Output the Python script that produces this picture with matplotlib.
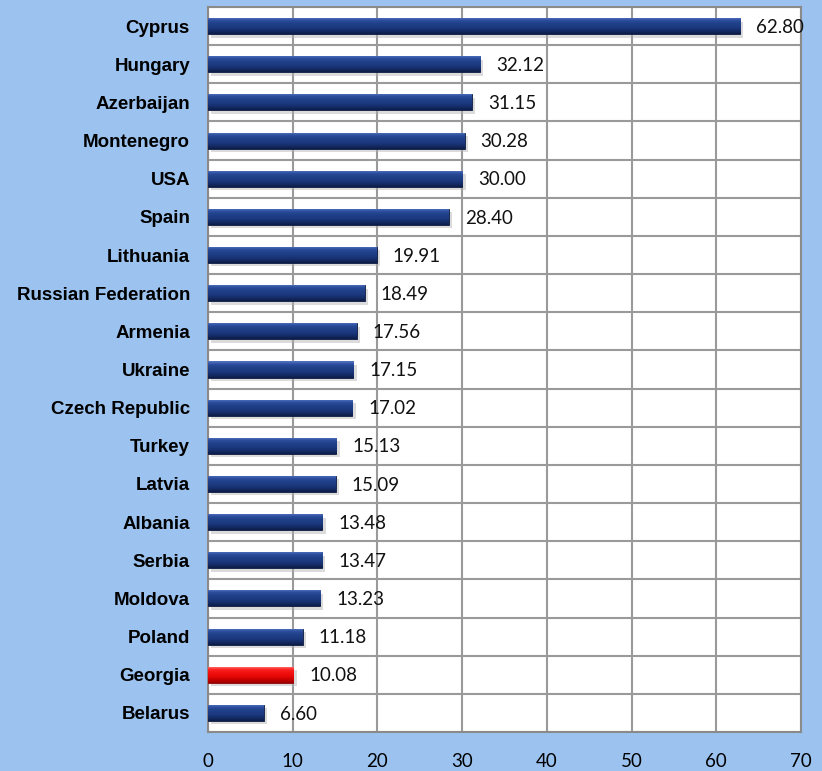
import matplotlib
matplotlib.use("Agg")
import matplotlib.pyplot as plt
import numpy as np
from matplotlib import font_manager
from matplotlib.colors import LinearSegmentedColormap

countries = ["Cyprus", "Hungary", "Azerbaijan", "Montenegro", "USA", "Spain",
             "Lithuania", "Russian Federation", "Armenia", "Ukraine",
             "Czech Republic", "Turkey", "Latvia", "Albania", "Serbia",
             "Moldova", "Poland", "Georgia", "Belarus"]
values = [62.80, 32.12, 31.15, 30.28, 30.00, 28.40, 19.91, 18.49, 17.56,
          17.15, 17.02, 15.13, 15.09, 13.48, 13.47, 13.23, 11.18, 10.08, 6.60]
highlight = "Georgia"
xticks = [0, 10, 20, 30, 40, 50, 60, 70]

names = {f.name for f in font_manager.fontManager.ttflist}
label_font = "Liberation Sans Narrow" if "Liberation Sans Narrow" in names else "Liberation Sans"
num_font = "Lato" if "Lato" in names else "DejaVu Sans"

bg = "#9cc3f0"
fig = plt.figure(figsize=(8.22, 7.71), dpi=100, facecolor=bg)
ax = fig.add_axes([208 / 822, 1 - 732 / 771, 593 / 822, 725 / 771])
ax.set_facecolor("white")

n = len(countries)
ypos = np.arange(n)
bh = 0.42

blue_cmap = LinearSegmentedColormap.from_list(
    "b", ["#5476c4", "#2a4c9a", "#1f3f88", "#1c3a80", "#152d68", "#0d1d48"])
red_cmap = LinearSegmentedColormap.from_list(
    "r", ["#ff8080", "#ff2020", "#f01010", "#e80808", "#c80000", "#a00000"])

# shadows
ax.barh(ypos + 0.09, values, height=bh, left=0.4, color="#b0b0b0", alpha=0.45,
        edgecolor="none", zorder=2)
bars = ax.barh(ypos, values, height=bh, color="#1c3a80", edgecolor="#0c1a40",
               linewidth=0.6, zorder=3)
grad = np.linspace(0, 1, 64).reshape(-1, 1)
for bar, c in zip(bars, countries):
    x0, y0 = bar.get_x(), bar.get_y()
    w, h = bar.get_width(), bar.get_height()
    cmap = red_cmap if c == highlight else blue_cmap
    im = ax.imshow(grad, cmap=cmap, aspect="auto", extent=(x0, x0 + w, y0 + h, y0),
                   zorder=3.5, interpolation="bilinear")
    im.set_clip_path(bar)
    if c == highlight:
        bar.set_edgecolor("#9a0000")

for yv, v in zip(ypos, values):
    ax.text(v + 1.9, yv + 0.03, f"{v:.2f}", va="center", ha="left",
            fontsize=13.5, family=num_font, color="#111111", zorder=5)

ax.set_xlim(0, 70)
ax.set_ylim(n - 0.5, -0.5)
ax.set_xticks(xticks)
ax.set_xticklabels([str(t) for t in xticks], fontsize=13.5, family=num_font)
ax.set_yticks(ypos)
ax.set_yticklabels(countries, fontsize=13.5, family=label_font, fontweight="bold")
ax.tick_params(axis="x", length=0, pad=15)
ax.tick_params(axis="y", length=0, pad=13)

for t in xticks:
    ax.axvline(t, color="#9a9a9a", lw=1.5, zorder=1)
for k in range(n + 1):
    ax.axhline(k - 0.5, color="#9a9a9a", lw=1.5, zorder=1)
for s in ax.spines.values():
    s.set_color("#8a8a8a")
    s.set_linewidth(1.5)

fig.savefig("out.png", dpi=100, facecolor=bg)
